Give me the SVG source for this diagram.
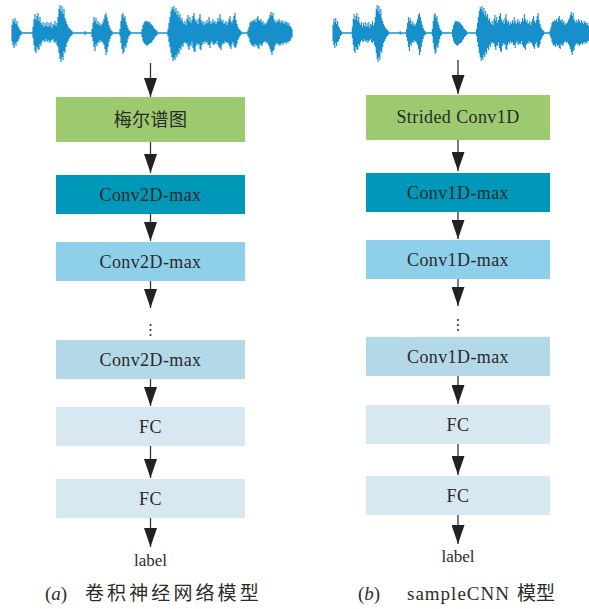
<svg xmlns="http://www.w3.org/2000/svg" xmlns:xlink="http://www.w3.org/1999/xlink" width="589" height="609" viewBox="0 0 589 609">
  <style>
    .box-mel { fill: #9dc96f; }
    .box-conv-a { fill: #0098b8; }
    .box-conv-b { fill: #8ecfe9; }
    .box-conv-c { fill: #b3d9e8; }
    .box-fc { fill: #d8e8f0; }
    .lbl { font-family: "Liberation Serif", "Times New Roman", serif; font-size: 18px; letter-spacing: 0.4px; fill: #2b2b2b; text-anchor: middle; }
    .cjk { font-family: "Liberation Serif", "Noto Sans CJK SC", serif; }
    .out { font-family: "Liberation Serif", serif; font-size: 17px; fill: #2b2b2b; text-anchor: middle; }
    .cap { font-family: "Liberation Serif", "Noto Sans CJK SC", serif; font-size: 19px; fill: #2b2b2b; }
    .edge { stroke: #333; stroke-width: 1.3; fill: none; marker-end: url(#head); }
    .dot { fill: #333; }
  </style>
  <defs>
    <marker id="head" markerUnits="userSpaceOnUse" markerWidth="19" markerHeight="13" refX="19" refY="6.5" orient="auto">
      <path d="M0,0 L19,6.5 L0,13 Z" fill="#222"/>
    </marker>
    <!-- audio waveform, drawn as thin vertical bars around a centre line at y=33 -->
    <g id="wave" stroke="#168fcb" fill="none">
      <path d="M12 33H292" stroke-width="1.5"/>
      <path stroke-width="1.2" d="M12 25v16M13 19v26M14 22v26M15 18v25M16 24v22M17 21v21M18 26v15M19 28v11M20 30v6M21 31v4
M33 27v11M34 19v26M35 14v37M36 20v33M37 16v31M38 13v36M39 21v29M40 17v27M41 23v23M42 25v17M43 22v18M44 27v14M45 23v19M46 26v13M47 22v19M48 27v15M49 23v17M50 26v17M51 22v19M52 28v12M53 24v15M54 25v17M55 21v22M56 26v15M57 23v22M58 17v30M59 9v44M60 5v54M61 11v51M62 6v51M63 14v46M64 9v42M65 18v35M66 21v26M67 24v19M68 26v15M69 28v11M70 29v8M71 30v6M72 31v4
M85 31v4M92 29v8M93 23v18M94 17v30M95 21v30M96 18v26M97 24v22M98 21v21M99 25v18M100 23v17M101 26v16M102 24v17M103 22v21M104 19v26M105 15v34M106 13v42M107 17v35M108 21v26M109 25v17M110 28v11M111 30v6M112 31v4
M120 29v7M121 21v22M122 15v34M123 13v41M124 18v34M125 16v30M126 22v26M127 25v18M128 28v11M129 30v6M130 31v4
M142 29v8M143 25v16M144 23v20M145 21v23M146 21v24M147 22v24M148 21v24M149 23v21M150 22v21M151 24v19M152 25v17M153 26v14M154 28v11M155 29v8M156 30v6M157 31v4
M168 29v7M169 23v19M170 17v30M171 11v42M172 7v50M173 9v52M174 6v52M175 12v48M176 8v47M177 15v42M178 11v41M179 17v37M180 14v34M181 20v30M182 18v27M183 22v25M184 24v19M185 21v21M186 25v19M187 19v24M188 15v32M189 21v29M190 17v28M191 23v23M192 20v22M193 16v32M194 13v38M195 19v33M196 22v24M197 20v23M198 24v21M199 18v26M200 14v35M201 20v30M202 23v22M203 21v21M204 25v19M205 22v19M206 24v19M207 20v22M208 23v22M209 17v28M210 21v27M211 24v19M212 22v19M213 19v25M214 23v22M215 21v22M216 24v20M217 22v19M218 18v27M219 21v26M220 14v34M221 19v31M222 22v23M223 20v23M224 24v20M225 23v18M226 21v22M227 25v17M228 22v21M229 19v26M230 16v31M231 21v28M232 23v21M233 20v22M234 16v30M235 13v35M236 20v27M237 24v20M238 27v13M239 29v9M240 30v6M241 31v4
M248 30v6M249 27v11M250 23v19M251 21v23M252 22v24M253 20v25M254 21v26M255 19v25M256 22v24M257 18v27M258 16v32M259 20v29M260 21v23M261 19v26M262 23v23M263 21v22M264 25v17M265 23v18M266 24v19M267 22v20M268 20v24M269 18v28M270 15v34M271 12v40M272 16v39M273 13v38M274 19v31M275 21v25M276 23v21M277 20v23M278 22v23M279 19v25M280 21v25M281 23v21M282 20v23M283 22v23M284 24v19M285 21v21M286 23v21M287 22v20M288 25v18M289 23v18M290 26v15M291 27v12M292 29v8"/>
    </g>
  </defs>

  <rect width="589" height="609" fill="#ffffff"/>

  <!-- input waveforms -->
  <g id="wave-a"><use href="#wave" xlink:href="#wave"/></g>
  <g id="wave-b"><use href="#wave" xlink:href="#wave" transform="translate(333,0) scale(0.92,1) translate(-12,0)"/></g>

  <!-- (a) CNN on mel spectrogram -->
  <g id="a-mel"><rect class="box-mel" x="56" y="97" width="189" height="45"/><text class="lbl cjk" x="150.5" y="126">梅尔谱图</text></g>
  <g id="a-conv1"><rect class="box-conv-a" x="56" y="175" width="189" height="39"/><text class="lbl" x="150.5" y="201">Conv2D-max</text></g>
  <g id="a-conv2"><rect class="box-conv-b" x="56" y="242" width="189" height="39"/><text class="lbl" x="150.5" y="268">Conv2D-max</text></g>
  <g id="a-conv3"><rect class="box-conv-c" x="56" y="340" width="189" height="39"/><text class="lbl" x="150.5" y="366">Conv2D-max</text></g>
  <g id="a-fc1"><rect class="box-fc" x="56" y="407" width="189" height="39"/><text class="lbl" x="150.5" y="433">FC</text></g>
  <g id="a-fc2"><rect class="box-fc" x="56" y="479" width="189" height="39"/><text class="lbl" x="150.5" y="505">FC</text></g>
  <g id="a-label"><text class="out" x="150.5" y="566">label</text></g>

  <!-- (b) sampleCNN on raw waveform -->
  <g id="b-strided"><rect class="box-mel" x="366" y="95" width="184" height="45"/><text class="lbl" x="458" y="123">Strided Conv1D</text></g>
  <g id="b-conv1"><rect class="box-conv-a" x="366" y="173" width="184" height="39"/><text class="lbl" x="458" y="199">Conv1D-max</text></g>
  <g id="b-conv2"><rect class="box-conv-b" x="366" y="240" width="184" height="39"/><text class="lbl" x="458" y="266">Conv1D-max</text></g>
  <g id="b-conv3"><rect class="box-conv-c" x="366" y="337" width="184" height="39"/><text class="lbl" x="458" y="363">Conv1D-max</text></g>
  <g id="b-fc1"><rect class="box-fc" x="366" y="405" width="184" height="39"/><text class="lbl" x="458" y="431">FC</text></g>
  <g id="b-fc2"><rect class="box-fc" x="366" y="476" width="184" height="39"/><text class="lbl" x="458" y="502">FC</text></g>
  <g id="b-label"><text class="out" x="458" y="562">label</text></g>

  <!-- connectors -->
  <g id="connectors">
    <path class="edge" d="M150.5 63V97"/>
    <path class="edge" d="M150.5 142V173"/>
    <path class="edge" d="M150.5 214V241"/>
    <path class="edge" d="M150.5 281V308"/>
    <path class="edge" d="M150.5 379V406"/>
    <path class="edge" d="M150.5 446V478"/>
    <path class="edge" d="M150.5 518V547"/>
    <circle class="dot" cx="150.5" cy="325" r="1.1"/>
    <circle class="dot" cx="150.5" cy="330" r="1.1"/>
    <circle class="dot" cx="150.5" cy="335" r="1.1"/>

    <path class="edge" d="M458 60V94"/>
    <path class="edge" d="M458 140V171"/>
    <path class="edge" d="M458 212V239"/>
    <path class="edge" d="M458 279V306"/>
    <path class="edge" d="M458 376V404"/>
    <path class="edge" d="M458 444V475"/>
    <path class="edge" d="M458 515V544"/>
    <circle class="dot" cx="458" cy="320" r="1.1"/>
    <circle class="dot" cx="458" cy="325" r="1.1"/>
    <circle class="dot" cx="458" cy="330" r="1.1"/>
  </g>

  <!-- captions -->
  <g id="captions">
    <text class="cap" x="45" y="600">(<tspan font-style="italic">a</tspan>)</text>
    <text class="cap" x="85" y="600" font-size="20" letter-spacing="3.1">卷积神经网络模型</text>
    <text class="cap" x="358" y="600">(<tspan font-style="italic">b</tspan>)</text>
    <text class="cap" x="407" y="600" font-size="20" letter-spacing="1">sampleCNN</text>
    <text class="cap" x="517" y="600" font-size="19">模型</text>
  </g>
</svg>
